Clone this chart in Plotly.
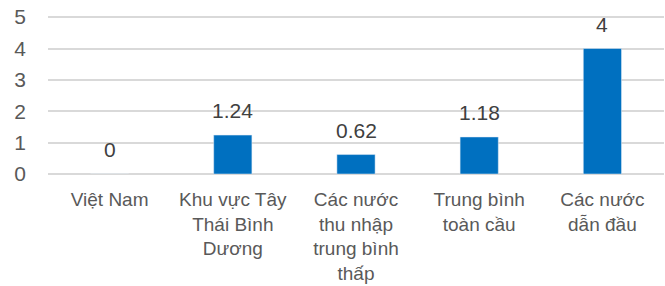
import plotly.graph_objects as go

categories = ["Việt Nam", "Khu vực Tây<br>Thái Bình<br>Dương", "Các nước<br>thu nhập<br>trung bình<br>thấp", "Trung bình<br>toàn cầu", "Các nước<br>dẫn đầu"]
values = [0, 1.24, 0.62, 1.18, 4]
labels = ["0", "1.24", "0.62", "1.18", "4"]

fig = go.Figure()
fig.add_trace(go.Bar(x=categories, y=values, marker_color="#0070C0", width=0.31))
for c, v, t in zip(categories, values, labels):
    fig.add_annotation(x=c, y=v, text=t, showarrow=False, yanchor="bottom", yshift=11,
                       font=dict(family="Liberation Sans, Arial", size=21, color="#404040"))

fig.update_layout(
    width=665, height=286, margin=dict(l=48, r=1, t=14, b=112),
    paper_bgcolor="white", plot_bgcolor="white", showlegend=False,
    font=dict(family="Liberation Sans, Arial", size=19, color="#595959"),
)
fig.update_yaxes(range=[0, 5.1], tickvals=[0, 1, 2, 3, 4, 5], showgrid=True, gridcolor="#D9D9D9", gridwidth=1.5,
                 zeroline=True, zerolinecolor="#D9D9D9", zerolinewidth=1.5, ticklabelstandoff=21,
                 automargin=False, ticklabeloverflow="allow", tickfont=dict(size=21, color="#595959"))
fig.update_xaxes(showline=False, ticks="", ticklabelstandoff=12, automargin=False,
                 ticklabeloverflow="allow", tickfont=dict(size=19, color="#595959"))
fig.write_html("out.html", config={"displayModeBar": False},
               post_script="document.body.style.margin='0px';")
